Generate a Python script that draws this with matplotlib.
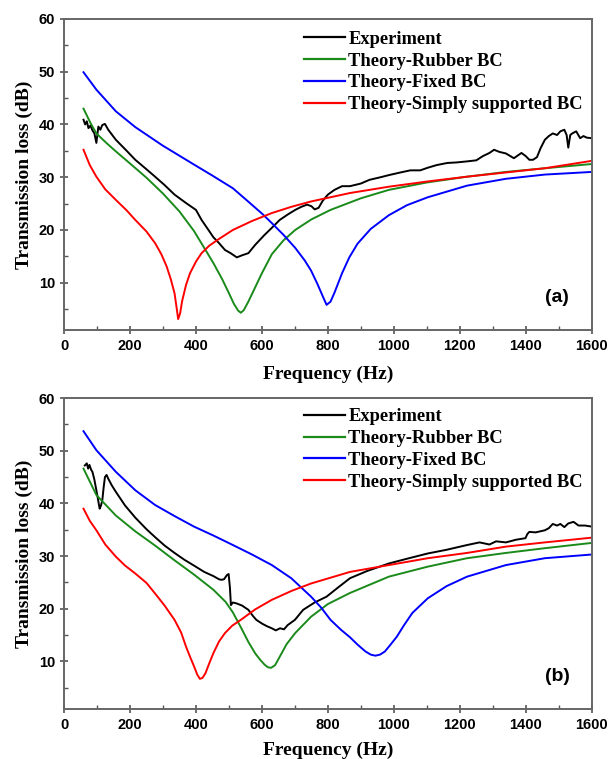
import numpy as np
import matplotlib.pyplot as plt
from matplotlib.ticker import MultipleLocator

# ---- panel (a) data ----
fa_exp = [59, 64, 69, 74, 80, 86, 92, 98, 104, 110, 116, 124, 134, 157, 190, 216, 250, 276, 305, 335, 370,
          400, 417, 440, 453, 470, 488, 505, 524, 540, 559, 580, 607, 630, 654, 680, 701, 720, 737, 750,
          760, 772, 784, 800, 820, 843, 867, 900, 926, 960, 985, 1020, 1050, 1080, 1103, 1130, 1162, 1190,
          1222, 1250, 1270, 1290, 1304, 1320, 1340, 1364, 1387, 1400, 1411, 1422, 1434, 1445, 1458, 1470,
          1482, 1495, 1505, 1517, 1524, 1529, 1535, 1541, 1553, 1565, 1575, 1585, 1600]
tl_a_exp = [40.9, 40.0, 40.6, 39.3, 39.8, 38.9, 38.3, 36.5, 39.6, 39.0, 39.9, 40.1, 39.0, 37.1, 35.0, 33.3,
            31.5, 30.1, 28.5, 26.7, 25.1, 23.8, 21.9, 19.8, 18.6, 17.5, 16.2, 15.6, 14.8, 15.2, 15.6, 17.2,
            19.0, 20.4, 21.9, 23.0, 23.8, 24.4, 24.8, 24.5, 23.9, 24.2, 25.5, 26.7, 27.6, 28.3, 28.3, 28.8,
            29.5, 30.0, 30.4, 30.9, 31.3, 31.3, 31.8, 32.3, 32.7, 32.8, 33.0, 33.2, 34.0, 34.6, 35.2, 34.8,
            34.5, 33.6, 34.6, 34.0, 33.3, 33.3, 33.8, 35.5, 37.1, 37.8, 38.3, 38.0, 38.7, 39.0, 38.0, 35.6,
            38.0, 38.3, 38.7, 37.4, 37.8, 37.5, 37.4]

fa_rub = [59, 80, 98, 130, 157, 200, 250, 300, 350, 394, 430, 453, 480, 500, 515, 528, 536, 545, 558, 571,
          600, 630, 665, 701, 750, 808, 900, 985, 1100, 1222, 1340, 1458, 1600]
tl_a_rub = [43.0, 40.3, 38.3, 36.4, 34.9, 32.6, 29.9, 26.9, 23.5, 19.8, 16.1, 13.7, 10.6, 8.0, 6.0, 4.7,
            4.3, 4.8, 6.3, 8.0, 11.8, 15.4, 18.0, 20.0, 22.0, 23.8, 26.0, 27.6, 29.0, 30.1, 31.0, 31.7, 32.5]

fa_fix = [59, 98, 157, 216, 299, 394, 450, 512, 560, 602, 630, 665, 701, 730, 749, 768, 784, 796, 808,
          820, 843, 865, 890, 930, 985, 1040, 1103, 1222, 1340, 1458, 1600]
tl_a_fix = [49.9, 46.6, 42.5, 39.5, 36.0, 32.4, 30.3, 27.9, 25.3, 23.0, 21.3, 19.1, 16.6, 14.2, 12.3, 9.8,
            7.5, 5.8, 6.4, 8.1, 11.8, 14.8, 17.4, 20.2, 22.8, 24.7, 26.2, 28.4, 29.7, 30.5, 31.0]

fa_ss = [59, 78, 98, 125, 157, 190, 216, 250, 276, 295, 311, 324, 335, 341, 346, 352, 358, 370, 382, 400,
         417, 440, 465, 512, 570, 630, 690, 749, 867, 985, 1103, 1222, 1340, 1458, 1600]
tl_a_ss = [35.2, 32.3, 30.1, 27.7, 25.7, 23.7, 21.9, 19.7, 17.5, 15.4, 13.1, 10.6, 8.0, 5.4, 3.1, 4.2, 6.5,
           9.6, 11.8, 14.0, 15.6, 17.0, 18.1, 20.0, 21.7, 23.2, 24.4, 25.4, 27.0, 28.2, 29.2, 30.1, 30.9,
           31.7, 33.1]

# ---- panel (b) data ----
fb_exp = [63, 69, 73, 77, 82, 86, 92, 98, 104, 108, 112, 116, 120, 124, 129, 134, 145, 157, 185, 216, 250,
          276, 305, 335, 365, 394, 425, 453, 470, 477, 485, 494, 499, 503, 506, 512, 524, 540, 559, 572, 583,
          600, 615, 630, 642, 655, 667, 678, 700, 725, 760, 796, 830, 867, 920, 985, 1040, 1103, 1160, 1222,
          1260, 1290, 1310, 1340, 1370, 1399, 1405, 1411, 1430, 1458, 1470, 1482, 1495, 1505, 1517, 1529,
          1545, 1560, 1580, 1600]
tl_b_exp = [47.2, 47.6, 46.6, 47.3, 46.4, 46.0, 44.5, 42.5, 40.4, 39.0, 39.6, 40.6, 43.0, 45.0, 45.4, 44.7,
            43.4, 42.2, 39.6, 37.3, 35.1, 33.6, 32.0, 30.6, 29.3, 28.2, 27.0, 26.2, 25.6, 25.5, 25.6, 26.4,
            26.6, 24.0, 20.7, 21.2, 21.0, 20.6, 19.8, 18.7, 17.9, 17.2, 16.7, 16.3, 15.9, 16.3, 16.1, 16.9,
            17.9, 19.8, 21.2, 22.3, 24.0, 25.8, 27.2, 28.6, 29.5, 30.5, 31.2, 32.1, 32.6, 32.2, 32.8, 32.6,
            33.1, 33.4, 34.2, 34.6, 34.5, 34.9, 35.3, 36.1, 35.8, 36.1, 35.5, 36.2, 36.5, 35.8, 35.8, 35.6]

fb_rub = [59, 98, 157, 216, 276, 335, 394, 453, 490, 512, 536, 559, 580, 595, 608, 618, 628, 640, 654, 675,
          701, 749, 800, 867, 985, 1103, 1222, 1340, 1458, 1600]
tl_b_rub = [46.6, 41.6, 37.7, 34.7, 32.0, 29.2, 26.5, 23.6, 21.3, 19.3, 16.5, 13.7, 11.5, 10.3, 9.4, 8.9,
            8.8, 9.3, 10.9, 13.3, 15.4, 18.5, 20.9, 23.0, 26.1, 28.0, 29.6, 30.6, 31.5, 32.5]

fb_fix = [59, 98, 157, 216, 276, 335, 394, 453, 512, 570, 630, 689, 749, 780, 808, 840, 867, 890, 914, 930,
          944, 958, 973, 990, 1009, 1030, 1056, 1103, 1160, 1222, 1340, 1458, 1600]
tl_b_fix = [53.7, 50.1, 46.0, 42.5, 39.7, 37.6, 35.6, 33.9, 32.1, 30.3, 28.3, 25.8, 22.3, 20.2, 17.9, 16.0,
            14.6, 13.2, 11.9, 11.3, 11.1, 11.3, 11.9, 13.2, 14.7, 16.8, 19.2, 22.0, 24.3, 26.1, 28.3, 29.6,
            30.3]

fb_ss = [59, 78, 98, 125, 157, 185, 216, 250, 276, 305, 335, 355, 370, 382, 394, 404, 412, 420, 429, 440,
         453, 470, 488, 510, 536, 580, 630, 690, 749, 867, 985, 1103, 1222, 1340, 1458, 1600]
tl_b_ss = [39.0, 36.7, 34.9, 32.2, 29.9, 28.2, 26.7, 24.9, 22.9, 20.6, 17.9, 15.5, 12.8, 10.9, 9.1, 7.5,
           6.7, 6.9, 7.8, 9.6, 11.6, 13.8, 15.4, 16.8, 17.9, 19.9, 21.7, 23.4, 24.8, 27.0, 28.3, 29.6,
           30.6, 31.8, 32.6, 33.5]

labels = ['Experiment', 'Theory-Rubber BC', 'Theory-Fixed BC', 'Theory-Simply supported BC']
colors = ['black', '#1a8a1a', '#0000ff', '#ff0000']

panels = [
    ('(a)', 9, [(fa_exp, tl_a_exp), (fa_rub, tl_a_rub), (fa_fix, tl_a_fix), (fa_ss, tl_a_ss)]),
    ('(b)', 7, [(fb_exp, tl_b_exp), (fb_rub, tl_b_rub), (fb_fix, tl_b_fix), (fb_ss, tl_b_ss)]),
]

serif = {'family': 'Liberation Serif', 'weight': 'bold'}

fig = plt.figure(figsize=(6.1, 7.59), dpi=100)
boxes = [[0.105, 0.565, 0.865, 0.410], [0.105, 0.066, 0.865, 0.4096]]
leg_y = [0.962, 0.967]

for box, ly, (tag, lpad, series) in zip(boxes, leg_y, panels):
    ax = fig.add_axes(box)
    for (x, y), lab, c in zip(series, labels, colors):
        ax.plot(x, y, color=c, lw=1.4, label=lab)

    ax.set_xlim(0, 1600)
    ax.set_ylim(1, 60)
    ax.xaxis.set_major_locator(MultipleLocator(200))
    ax.xaxis.set_minor_locator(MultipleLocator(100))
    ax.set_yticks([10, 20, 30, 40, 50, 60])
    ax.yaxis.set_minor_locator(MultipleLocator(5))
    ax.tick_params(which='major', direction='inout', length=6, width=1.2, color='#555555')
    ax.tick_params(which='minor', direction='in', length=3, width=1.0, color='#555555')
    for t in ax.get_xticklabels() + ax.get_yticklabels():
        t.set_family('Liberation Sans')
        t.set_weight('bold')
        t.set_fontsize(10.5)
    for s in ax.spines.values():
        s.set_color('#666666')
        s.set_linewidth(1.4)

    ax.set_xlabel('Frequency (Hz)', fontdict=serif, fontsize=14, labelpad=lpad)
    ax.set_ylabel('Transmission loss (dB)', fontdict=serif, fontsize=14, labelpad=4)
    ax.text(0.935, 0.105, tag, transform=ax.transAxes, fontsize=14, fontweight='bold',
            family='Liberation Sans', ha='center', va='center')

    leg = ax.legend(loc='upper left', bbox_to_anchor=(0.455, ly), frameon=False,
                    borderpad=0, borderaxespad=0, handlelength=2.2, handletextpad=0.2,
                    labelspacing=0.26, prop={'family': 'Liberation Serif', 'weight': 'bold', 'size': 13.3})
    for h in leg.legend_handles:
        h.set_linewidth(1.6)

fig.savefig('out.png', dpi=100)
